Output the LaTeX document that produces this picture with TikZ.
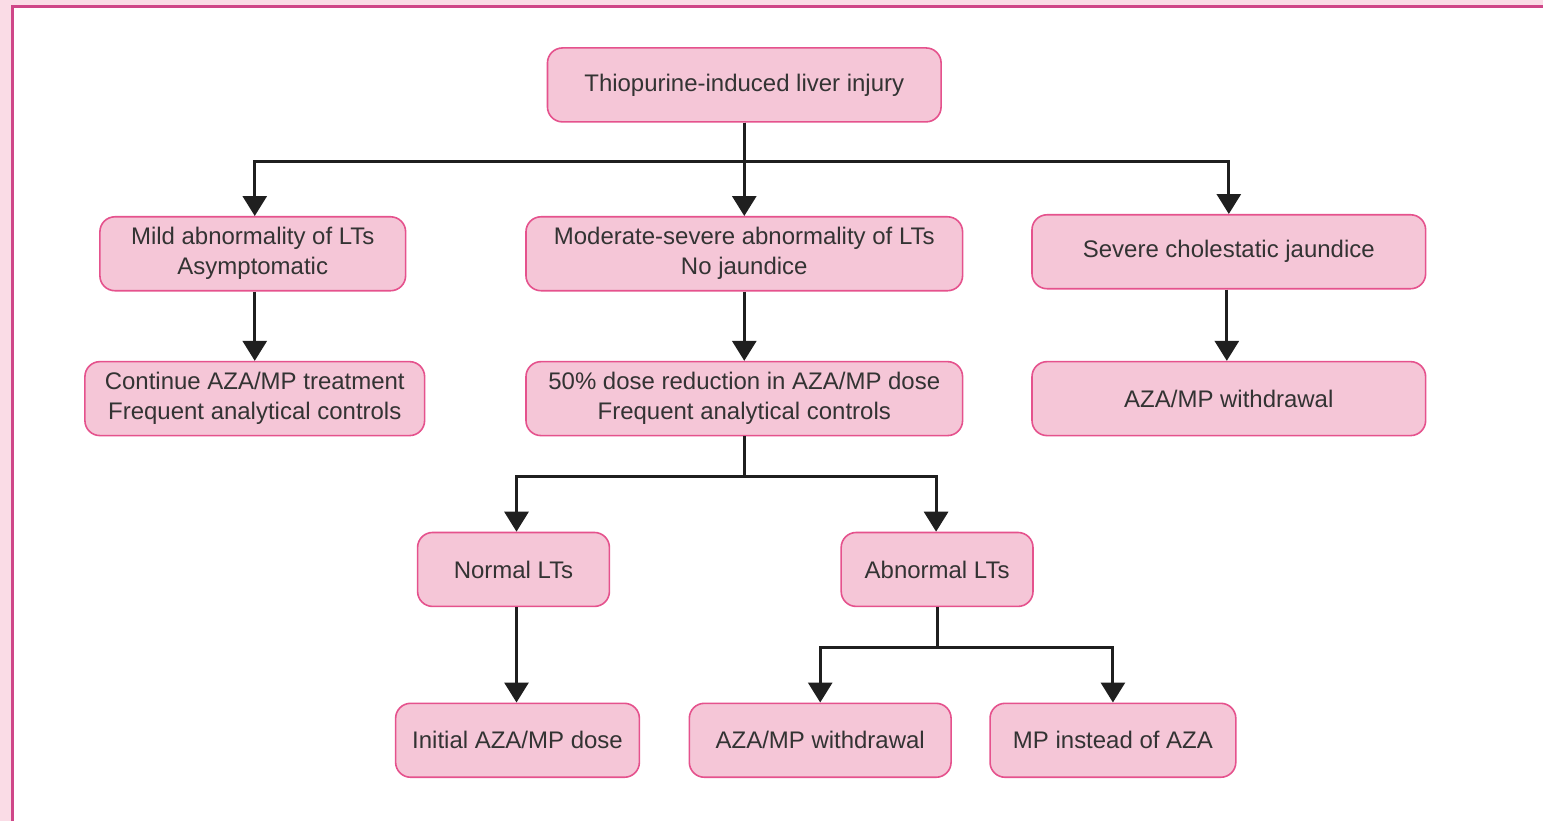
\documentclass[tikz,border=0pt]{standalone}
\usepackage{fontspec}
\setmainfont{Liberation Sans}
\usetikzlibrary{arrows.meta}
\definecolor{boxfill}{HTML}{F5C6D7}
\definecolor{boxline}{HTML}{E5528D}
\definecolor{bandpink}{HTML}{FADCE6}
\definecolor{framepink}{HTML}{CF4688}
\definecolor{textgray}{HTML}{333333}
\begin{document}
\begin{tikzpicture}[
  x=0.5pt, y=-0.5pt,
  font=\fontsize{12}{15}\selectfont,
  box/.style={draw=boxline,fill=boxfill,line width=0.8pt,rounded corners=7.5pt,
    minimum height=37pt,align=center,text=textgray,inner sep=2pt},
  arr/.style={line width=1.5pt,draw=black!88,-{Triangle[length=10pt,width=12pt]}}]
% frame
\fill[bandpink] (0,0) rectangle (1544,822);
\fill[white] (13,7) rectangle (1544,822);
\draw[framepink,line width=1.5pt] (13,822) -- (13,7) -- (1544,7);
% nodes
\node[box,minimum width=197pt] (injury) at (745,85) {Thiopurine-induced liver injury};
\node[box,minimum width=153pt] (mild) at (253,254) {Mild abnormality of LTs\\Asymptomatic};
\node[box,minimum width=218.5pt] (moderate) at (745,254) {Moderate-severe abnormality of LTs\\No jaundice};
\node[box,minimum width=197pt] (severe) at (1230,252) {Severe cholestatic jaundice};
\node[box,minimum width=170pt] (continue) at (255,399) {Continue AZA/MP treatment\\Frequent analytical controls};
\node[box,minimum width=218.5pt] (reduce) at (745,399) {50\% dose reduction in AZA/MP dose\\Frequent analytical controls};
\node[box,minimum width=197pt] (withdraw) at (1230,399) {AZA/MP withdrawal};
\node[box,minimum width=96pt] (normal) at (514,570) {Normal LTs};
\node[box,minimum width=96pt] (abnormal) at (938,570) {Abnormal LTs};
\node[box,minimum width=122pt] (initial) at (518,741) {Initial AZA/MP dose};
\node[box,minimum width=131pt] (stop) at (821,741) {AZA/MP withdrawal};
\node[box,minimum width=123pt] (mpaza) at (1114,741) {MP instead of AZA};
% connectors
\draw[arr] (injury.south) -- ++(0,39) -| (mild.north -| 255,0);
\draw[arr] (injury.south) -- (moderate.north);
\draw[arr] (injury.south) -- ++(0,39) -| (severe.north);
\draw[arr] (mild.south -| 255,0) -- (continue.north);
\draw[arr] (moderate.south) -- (reduce.north);
\draw[arr] (severe.south -| 1228,0) -- (withdraw.north -| 1228,0);
\draw[arr] (reduce.south) -- ++(0,40) -| (normal.north -| 517,0);
\draw[arr] (reduce.south) -- ++(0,40) -| (abnormal.north -| 937,0);
\draw[arr] (normal.south -| 517,0) -- (initial.north -| 517,0);
\draw[arr] (abnormal.south) -- ++(0,40) -| (stop.north);
\draw[arr] (abnormal.south) -- ++(0,40) -| (mpaza.north);
\end{tikzpicture}
\end{document}
